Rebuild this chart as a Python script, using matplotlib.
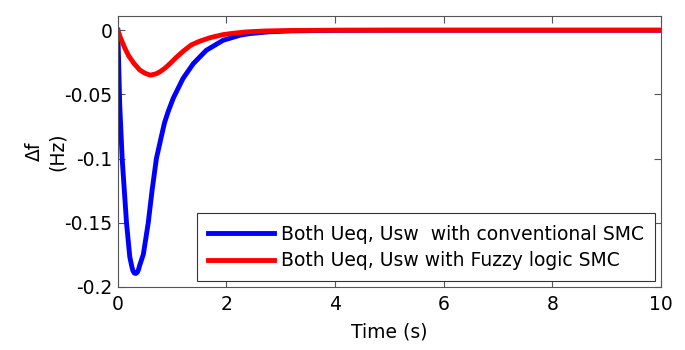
import numpy as np
import matplotlib.pyplot as plt

plt.rcParams['font.family'] = ['DejaVu Sans']
plt.rcParams['axes.unicode_minus'] = False

# values
t_conv = [0, 0.035, 0.08, 0.12, 0.16, 0.22, 0.26, 0.28, 0.30, 0.33, 0.36, 0.38, 0.40, 0.47,
          0.56, 0.63, 0.71, 0.80, 0.86, 0.93, 1.02, 1.20, 1.39, 1.63, 1.94, 2.25,
          2.43, 2.8, 3.2, 4.0, 5.0, 6.0, 8.0, 10.0]
df_conv = [0, -0.058, -0.100, -0.125, -0.150, -0.1765, -0.1845, -0.1875, -0.189, -0.1895, -0.1885, -0.1865, -0.1835, -0.1745,
           -0.150, -0.125, -0.100, -0.083, -0.072, -0.063, -0.053, -0.0376, -0.026, -0.0156, -0.0078, -0.0039,
           -0.0026, -0.0012, -0.0005, -0.0001, 0, 0, 0, 0]

t_fuzzy = [0, 0.05, 0.13, 0.2, 0.3, 0.405, 0.5, 0.6, 0.7, 0.77, 0.87, 0.96,
           1.08, 1.2, 1.35, 1.51, 1.7, 1.94, 2.12, 2.37, 2.7, 3.2, 4.0, 6.0, 8.0, 10.0]
df_fuzzy = [0, -0.006, -0.014, -0.020, -0.026, -0.031, -0.0335, -0.035, -0.034, -0.0325, -0.0295, -0.026,
            -0.021, -0.0165, -0.0115, -0.0085, -0.0058, -0.0034, -0.0024, -0.0013, -0.0006, -0.0002, 0, 0, 0, 0]

lbl_conv = 'Both Ueq, Usw  with conventional SMC'
lbl_fuzzy = 'Both Ueq, Usw with Fuzzy logic SMC'

fig = plt.figure(figsize=(6.85, 3.5), dpi=100)
ax = fig.add_axes([0.172, 0.18, 0.793, 0.774])

ax.plot(t_conv, df_conv, color='#0000ff', lw=3.5, label=lbl_conv)
ax.plot(t_fuzzy, df_fuzzy, color='#ff0000', lw=3.5, label=lbl_fuzzy)

ax.set_xlim(0, 10)
ax.set_ylim(-0.2, 0.011)
ax.set_xticks(np.arange(0, 11, 2))
ax.set_yticks([0, -0.05, -0.1, -0.15, -0.2])
ax.set_yticklabels(['0', '-0.05', '-0.1', '-0.15', '-0.2'])
ax.tick_params(direction='in', top=True, right=True, labelsize=13.5, length=5,
               color='#555555')
ax.tick_params(axis='x', pad=6)
ax.tick_params(axis='y', pad=4)
for s in ax.spines.values():
    s.set_color('#555555')

ax.set_xlabel('Time (s)', fontsize=13.5, labelpad=6)
ax.set_ylabel('\u0394f\n(Hz)', fontsize=13.5, labelpad=-2, linespacing=1.25)

leg = ax.legend(loc='lower right', fontsize=13.5, fancybox=False, framealpha=1,
                edgecolor='#333333', handlelength=3.5, handletextpad=0.4,
                borderaxespad=0.3, borderpad=0.6, labelspacing=0.4)
leg.get_frame().set_linewidth(0.8)

fig.savefig('out.png', dpi=100)
